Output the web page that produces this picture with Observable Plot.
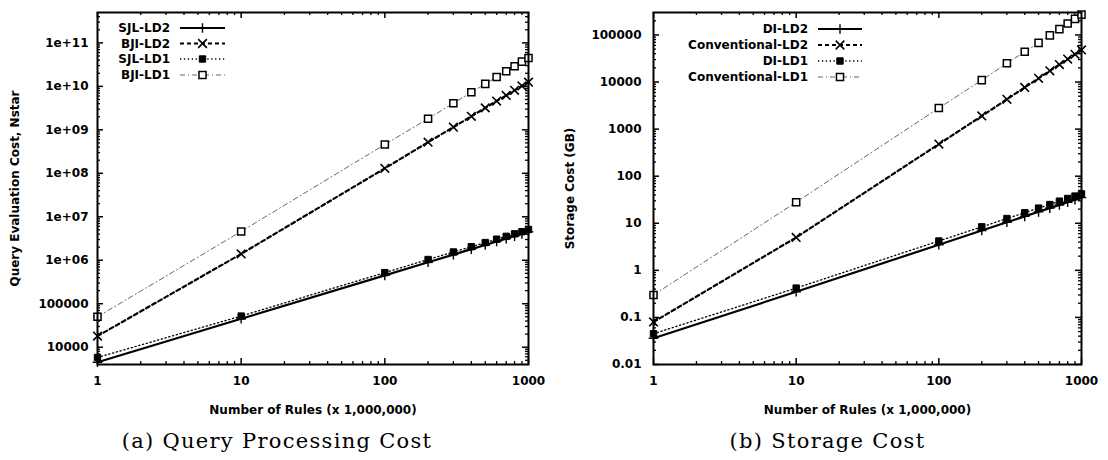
<!DOCTYPE html>
<html><head><meta charset="utf-8">
<script src="https://cdn.jsdelivr.net/npm/d3@7"></script>
<script src="https://cdn.jsdelivr.net/npm/@observablehq/plot@0.6"></script>
<style>
html,body{margin:0;padding:0;background:#fff;}
#wrap{position:relative;width:1108px;height:460px;overflow:hidden;background:#fff;}
#wrap svg{position:absolute;top:0;}
</style></head><body><div id="wrap"></div>
<script>
// ---- data ----
const rules = [1, 10, 100, 200, 300, 400, 500, 600, 700, 800, 900, 1000];

// (a) Query Processing Cost
const sjlLD2 = [4500, 45000, 450000, 900000, 1350000, 1800000, 2250000, 2700000, 3150000, 3600000, 4050000, 4500000];
const bjiLD2 = [18000, 1400000, 130000000, 520000000, 1150000000, 2050000000, 3200000000, 4600000000, 6200000000, 8100000000, 10200000000, 12500000000];
const sjlLD1 = [5800, 52000, 520000, 1040000, 1550000, 2050000, 2550000, 3050000, 3550000, 4050000, 4550000, 5100000];
const bjiLD1 = [50000, 4600000, 460000000, 1800000000, 4100000000, 7300000000, 11400000000, 16400000000, 22300000000, 29000000000, 37000000000, 45000000000];

// (b) Storage Cost
const diLD2 = [0.036, 0.35, 3.5, 7, 10.5, 14, 17.5, 21, 24.5, 28, 31.5, 35];
const convLD2 = [0.08, 5, 480, 1900, 4300, 7700, 12000, 17300, 23500, 30700, 38900, 48000];
const diLD1 = [0.045, 0.42, 4.2, 8.4, 12.6, 16.8, 21, 25, 29.5, 33.6, 37.8, 42];
const convLD1 = [0.3, 28, 2800, 11000, 25000, 44000, 68000, 98000, 133000, 175000, 220000, 270000];

const namesA = ["SJL-LD2", "BJI-LD2", "SJL-LD1", "BJI-LD1"];
const namesB = ["DI-LD2", "Conventional-LD2", "DI-LD1", "Conventional-LD1"];

const xTicks = [1, 10, 100, 1000];
const xTickLabels = ["1", "10", "100", "1000"];
const yTicksA = [1e4, 1e5, 1e6, 1e7, 1e8, 1e9, 1e10, 1e11];
const yTickLabelsA = ["10000", "100000", "1e+06", "1e+07", "1e+08", "1e+09", "1e+10", "1e+11"];
const yTicksB = [0.01, 0.1, 1, 10, 100, 1000, 10000, 100000];
const yTickLabelsB = ["0.01", "0.1", "1", "10", "100", "1000", "10000", "100000"];

// ---- styles ----
const styles = [
  {stroke: "#000", strokeWidth: 2.2, dash: null, symbol: "plus", fill: "none", r: 3.2, sw: 1.4},
  {stroke: "#000", strokeWidth: 2.2, dash: "4,3", symbol: "times", fill: "none", r: 4, sw: 1.6},
  {stroke: "#000", strokeWidth: 1.3, dash: "1.3,2.6", symbol: "square", fill: "#000", r: 3.6, sw: 1},
  {stroke: "#666", strokeWidth: 1, dash: "5,3,1,3", symbol: "square", fill: "#fff", r: 4, sw: 1.5, markStroke: "#000"}
];

function minorTicks(lo, hi) {
  const out = [];
  for (let e = Math.floor(Math.log10(lo)); e <= Math.ceil(Math.log10(hi)); e++) {
    for (let m = 2; m <= 9; m++) {
      const v = m * Math.pow(10, e);
      if (v > lo && v < hi) out.push(v);
    }
  }
  return out;
}

function panel(o) {
  const W = 554, H = 460, mT = 12, mB = 96;
  const innerH = H - mT - mB, innerW = W - o.mL - o.mR;
  const xMinor = minorTicks(1, 1000);
  const yMinor = minorTicks(o.yDomain[0], o.yDomain[1]);
  const yMajor = o.yTicks.filter(v => v >= o.yDomain[0] && v <= o.yDomain[1]);
  const marks = [];
  marks.push(Plot.ruleX(xTicks, {x: d => d, insetTop: innerH - 6, strokeWidth: 1.5}));
  marks.push(Plot.ruleX(xTicks, {x: d => d, insetBottom: innerH - 6, strokeWidth: 1.5}));
  marks.push(Plot.ruleX(xMinor, {x: d => d, insetTop: innerH - 3, strokeWidth: 1.3}));
  marks.push(Plot.ruleX(xMinor, {x: d => d, insetBottom: innerH - 3, strokeWidth: 1.3}));
  marks.push(Plot.ruleY(yMajor, {y: d => d, insetRight: innerW - 6, strokeWidth: 1.5}));
  marks.push(Plot.ruleY(yMajor, {y: d => d, insetLeft: innerW - 6, strokeWidth: 1.5}));
  marks.push(Plot.ruleY(yMinor, {y: d => d, insetRight: innerW - 3, strokeWidth: 1.3}));
  marks.push(Plot.ruleY(yMinor, {y: d => d, insetLeft: innerW - 3, strokeWidth: 1.3}));
  o.series.forEach((vals, si) => {
    const s = styles[si];
    const data = rules.map((x, i) => ({x, y: vals[i]}));
    marks.push(Plot.line(data, {x: "x", y: "y", stroke: s.stroke, strokeWidth: s.strokeWidth, strokeDasharray: s.dash}));
  });
  o.series.forEach((vals, si) => {
    const s = styles[si];
    const data = rules.map((x, i) => ({x, y: vals[i]}));
    marks.push(Plot.dot(data, {x: "x", y: "y", symbol: s.symbol, r: s.r, fill: s.fill, stroke: s.markStroke || s.stroke, strokeWidth: s.sw}));
  });
  marks.push(Plot.frame({strokeWidth: 2}));
  marks.push(Plot.axisX(xTicks, {tickSize: 0, tickPadding: 12, tickFormat: d => xTickLabels[xTicks.indexOf(d)], label: null}));
  marks.push(Plot.axisY(yMajor, {tickSize: 0, tickPadding: o.tickPadY, tickFormat: d => o.yTickLabels[o.yTicks.indexOf(d)], label: null}));
  marks.push(Plot.text([o.yLabel], {frameAnchor: "left", dx: -o.yLabelOffset, rotate: -90, textAnchor: "middle", lineAnchor: "middle"}));
  marks.push(Plot.text(["Number of Rules (x 1,000,000)"], {frameAnchor: "bottom", dy: 46, lineAnchor: "middle"}));
  marks.push(Plot.text([o.caption], {frameAnchor: "bottom", dy: 77, dx: o.captionDx, lineAnchor: "middle", fontFamily: "DejaVu Serif", fontSize: 21, fontWeight: "normal"}));

  const svg = Plot.plot({
    width: W, height: H,
    marginLeft: o.mL, marginRight: o.mR, marginTop: mT, marginBottom: mB,
    x: {type: "log", domain: [1, 1000]},
    y: {type: "log", domain: o.yDomain},
    style: {fontFamily: "DejaVu Sans", fontSize: "12px", fontWeight: "bold", background: "#fff", overflow: "visible"},
    marks
  });
  // caption letter spacing
  d3.select(svg).selectAll("text").filter(function() { return this.textContent === o.caption; })
    .style("letter-spacing", "1.3px");
  // legend
  const g = d3.select(svg).append("g");
  o.names.forEach((name, i) => {
    const s = styles[i];
    const y = o.legendY[i];
    g.append("text").attr("x", o.legendTextX).attr("y", y).attr("dy", "0.35em")
      .attr("text-anchor", "end").attr("fill", "#000").text(name);
    g.append("line").attr("x1", o.legendLine[0]).attr("x2", o.legendLine[1]).attr("y1", y).attr("y2", y)
      .attr("stroke", s.stroke).attr("stroke-width", s.strokeWidth).attr("stroke-dasharray", s.dash);
    const symMap = {plus: d3.symbolPlus, times: d3.symbolTimes, square: d3.symbolSquare};
    const cx = (o.legendLine[0] + o.legendLine[1]) / 2;
    g.append("path").attr("d", d3.symbol(symMap[s.symbol], s.r * s.r * Math.PI)())
      .attr("transform", `translate(${cx},${y})`)
      .attr("fill", s.fill).attr("stroke", s.markStroke || s.stroke).attr("stroke-width", s.sw);
  });
  return svg;
}

const wrap = document.getElementById("wrap");
const a = panel({
  series: [sjlLD2, bjiLD2, sjlLD1, bjiLD1], names: namesA,
  yDomain: [4000, 5e11], yTicks: yTicksA, yTickLabels: yTickLabelsA,
  mL: 97, mR: 26, tickPadY: 9, yLabel: "Query Evaluation Cost, Nstar", yLabelOffset: 82,
  caption: "(a) Query Processing Cost", captionDx: -36,
  legendTextX: 170, legendLine: [180, 225], legendY: [28, 43.5, 59, 75]
});
a.style.left = "0px";
wrap.appendChild(a);
const b = panel({
  series: [diLD2, convLD2, diLD1, convLD1], names: namesB,
  yDomain: [0.01, 3e5], yTicks: yTicksB, yTickLabels: yTickLabelsB,
  mL: 99, mR: 27, tickPadY: 12, yLabel: "Storage Cost (GB)", yLabelOffset: 83,
  caption: "(b) Storage Cost", captionDx: -40,
  legendTextX: 254, legendLine: [264, 308], legendY: [29, 45, 61, 77]
});
b.style.left = "554px";
wrap.appendChild(b);
</script></body></html>
